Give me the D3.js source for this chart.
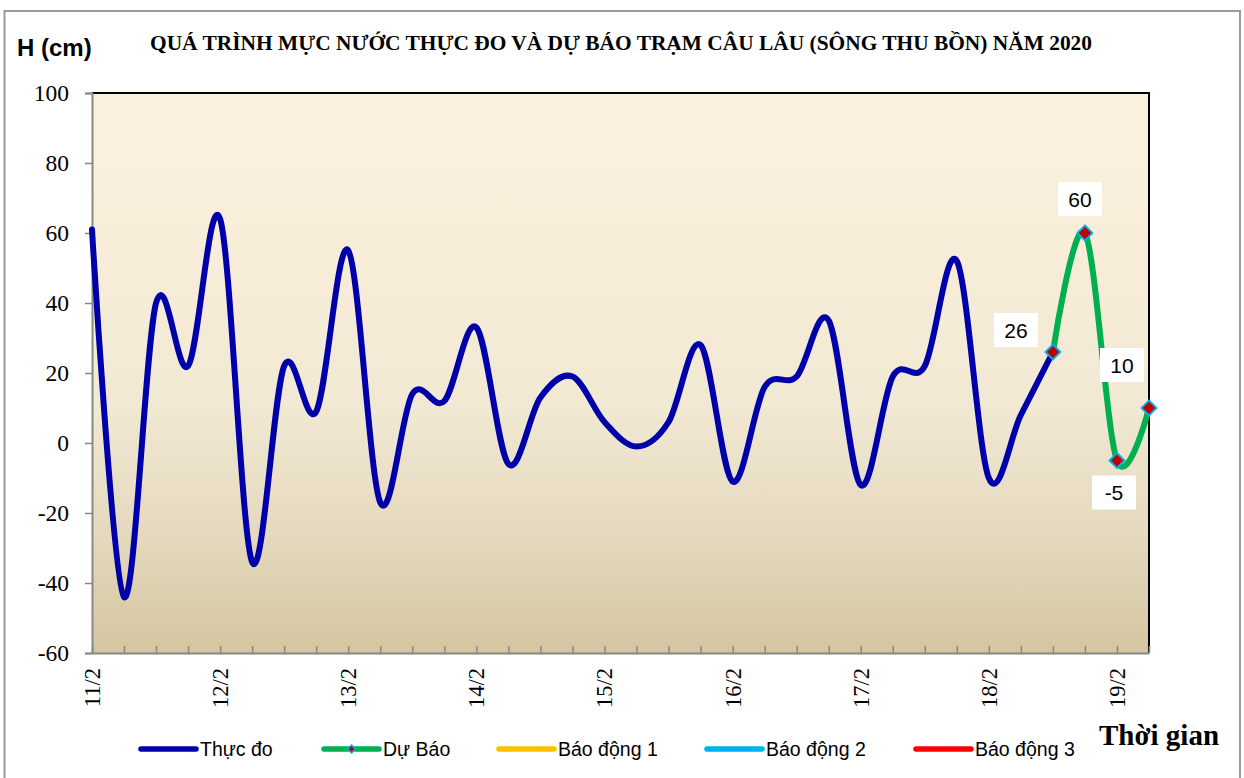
<!DOCTYPE html>
<html>
<head>
<meta charset="utf-8">
<script src="https://cdn.jsdelivr.net/npm/d3@7"></script>
<style>
  html, body { margin: 0; padding: 0; background: #ffffff; }
  svg { display: block; }
  .serif { font-family: "Liberation Serif", "Times New Roman", serif; }
  .sans { font-family: "Liberation Sans", Arial, sans-serif; }
</style>
</head>
<body>
<svg id="chart" width="1244" height="778"></svg>
<script>
// ---------- DATA ----------
const dayLabels = ["11/2", "12/2", "13/2", "14/2", "15/2", "16/2", "17/2", "18/2", "19/2"];
// 6-hourly categories (4 per day), 34 points
const categories = [];
for (let d = 0; d < dayLabels.length; d++) {
  for (let h = 0; h < 4; h++) categories.push(dayLabels[d] + "#" + h);
}
categories.splice(34);

const observed = [61, -44, 40, 22, 64, -34, 22, 9, 55, -17, 14, 12, 33, -6, 13, 19, 6, -1, 6, 28,
                  -11, 16, 19, 35, -12, 19, 22, 52, -10, 8, 26];
const forecastStart = 30;
const forecast = [26, 60, -5, 10];

const yTicks = [-60, -40, -20, 0, 20, 40, 60, 80, 100];
const title = "QUÁ TRÌNH MỰC NƯỚC THỰC ĐO VÀ DỰ BÁO TRẠM CÂU LÂU (SÔNG THU BỒN) NĂM  2020";
const legendItems = [
  { name: "Thực đo", color: "#0000AA", marker: false },
  { name: "Dự Báo", color: "#00B050", marker: true },
  { name: "Báo động 1", color: "#FFC000", marker: false },
  { name: "Báo động 2", color: "#00B0F0", marker: false },
  { name: "Báo động 3", color: "#FF0000", marker: false }
];

// ---------- LAYOUT ----------
const svg = d3.select("#chart");
const L = 92, R = 1149, T = 93, B = 653;

const x = d3.scalePoint().domain(categories).range([L, R]).padding(0);
const y = d3.scaleLinear().domain([-60, 100]).range([B, T]);

// outer frame
svg.append("rect").attr("x", 4.5).attr("y", 11).attr("width", 1235.5).attr("height", 820)
  .attr("fill", "#fff").attr("stroke", "#9a9a9a").attr("stroke-width", 2);

// gradient background
const defs = svg.append("defs");
const grad = defs.append("linearGradient").attr("id", "bg").attr("x1", 0).attr("y1", 0).attr("x2", 0).attr("y2", 1);
grad.append("stop").attr("offset", "0%").attr("stop-color", "#FCF1DE");
grad.append("stop").attr("offset", "55%").attr("stop-color", "#F2E9D4");
grad.append("stop").attr("offset", "78%").attr("stop-color", "#E5DABF");
grad.append("stop").attr("offset", "100%").attr("stop-color", "#D5C6A1");

svg.append("rect").attr("x", L).attr("y", T).attr("width", R - L).attr("height", B - T)
  .attr("fill", "url(#bg)");

// plot border top/right (black)
svg.append("path").attr("d", `M${L},${T}H${R}V${B}`).attr("fill", "none")
  .attr("stroke", "#000").attr("stroke-width", 2);

// Y axis
const yAxis = d3.axisLeft(y).tickValues(yTicks).tickSize(7).tickPadding(16).tickFormat(d => String(d));
const gy = svg.append("g").attr("transform", `translate(${L},0)`).call(yAxis);
gy.attr("font-family", null).attr("font-size", null);
gy.select(".domain").attr("stroke", "#888").attr("stroke-width", 2);
gy.selectAll(".tick line").attr("stroke", "#888").attr("stroke-width", 1.5);
gy.selectAll(".tick text").attr("class", "serif")
  .style("font-family", '"Liberation Serif", "Times New Roman", serif')
  .style("font-size", "23.5px").attr("fill", "#000");

// X axis
const xAxis = d3.axisBottom(x).tickSize(-7).tickSizeOuter(0).tickFormat(() => "");
const gx = svg.append("g").attr("transform", `translate(0,${B})`).call(xAxis);
gx.select(".domain").attr("stroke", "#888").attr("stroke-width", 2);
gx.selectAll(".tick line").attr("stroke", "#888").attr("stroke-width", 1.5);

// x labels rotated
svg.append("g").selectAll("text")
  .data(categories.filter((c, i) => i % 4 === 0))
  .join("text")
  .attr("class", "serif")
  .attr("transform", d => `translate(${x(d) + 8},668) rotate(-90)`)
  .attr("text-anchor", "end")
  .style("font-size", "22.5px").attr("fill", "#000")
  .text(d => d.split("#")[0]);

// lines
const line = d3.line().x(d => x(categories[d.i])).y(d => y(d.v)).curve(d3.curveCardinal.tension(0));
const obsPts = observed.map((v, i) => ({ i, v }));
const fcPts = forecast.map((v, k) => ({ i: forecastStart + k, v }));

svg.append("path").attr("d", line(obsPts)).attr("fill", "none")
  .attr("stroke", "#0000AA").attr("stroke-width", 6).attr("stroke-linejoin", "round").attr("stroke-linecap", "round");
svg.append("path").attr("d", line(fcPts)).attr("fill", "none")
  .attr("stroke", "#00B050").attr("stroke-width", 6).attr("stroke-linejoin", "round").attr("stroke-linecap", "round");

// markers
const diamond = (s) => `M0,${-s}L${s},0L0,${s}L${-s},0Z`;
svg.append("g").selectAll("path").data(fcPts).join("path")
  .attr("transform", d => `translate(${x(categories[d.i])},${y(d.v)})`)
  .attr("d", diamond(7.5))
  .attr("fill", "#C00000").attr("stroke", "#00B0F0").attr("stroke-width", 1.8);

// data labels
const labelOffsets = [[-37, -22], [-5, -34], [-3, 32], [-27, -43]];
const lg = svg.append("g");
fcPts.forEach((d, k) => {
  const cx = x(categories[d.i]) + labelOffsets[k][0];
  const cy = y(d.v) + labelOffsets[k][1];
  const txt = String(d.v);
  const w = txt.length * 12 + 20;
  lg.append("rect").attr("x", cx - w / 2).attr("y", cy - 17).attr("width", w).attr("height", 34).attr("fill", "#fff");
  lg.append("text").attr("class", "sans").attr("x", cx).attr("y", cy + 7.5).attr("text-anchor", "middle")
    .style("font-size", "21px").attr("fill", "#000")
    .text(txt);
});

// title
svg.append("text").attr("class", "serif").attr("x", 150).attr("y", 50)
  .attr("font-weight", "bold")
  .style("font-size", "21px").attr("textLength", 942).attr("lengthAdjust", "spacingAndGlyphs")
  .attr("fill", "#000").text(title);

// y unit
svg.append("text").attr("class", "sans").attr("x", 17).attr("y", 56)
  .attr("font-weight", "bold")
  .style("font-size", "24px").attr("fill", "#000").text("H (cm)");

// x title
svg.append("text").attr("class", "serif").attr("x", 1099).attr("y", 745)
  .attr("font-weight", "bold")
  .style("font-size", "29px").attr("fill", "#000").text("Thời gian");

// legend
const legendX = [141, 324, 499, 707, 916];
const leg = svg.append("g");
legendItems.forEach((it, k) => {
  const lx = legendX[k];
  leg.append("line").attr("x1", lx).attr("x2", lx + 55).attr("y1", 749).attr("y2", 749)
    .attr("stroke", it.color).attr("stroke-width", 5.5).attr("stroke-linecap", "round");
  if (it.marker) {
    leg.append("path").attr("transform", `translate(${lx + 27.5},749)`).attr("d", diamond(4))
      .attr("fill", "#C00000").attr("stroke", "#00B0F0").attr("stroke-width", 1.5);
  }
  leg.append("text").attr("class", "sans").attr("x", lx + 59).attr("y", 756)
    .style("font-size", "19.5px").attr("fill", "#000")
    .text(it.name);
});
</script>
</body>
</html>
